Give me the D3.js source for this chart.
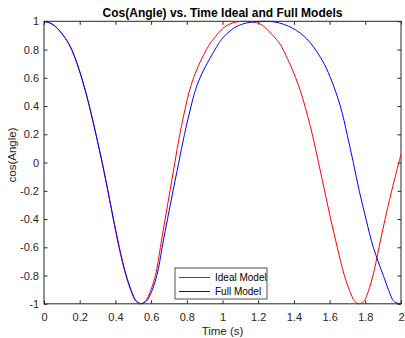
<!DOCTYPE html>
<html>
<head>
<meta charset="utf-8">
<script src="https://cdn.jsdelivr.net/npm/d3@7"></script>
<style>
  html, body { margin: 0; padding: 0; background: #fff; }
  svg { display: block; font-family: "Liberation Sans", Arial, Helvetica, sans-serif; }
</style>
</head>
<body>
<svg id="chart" width="405" height="338"></svg>
<script>
// Ideal model: time (s) and cos(angle)
const idealTime = [0, 0.05, 0.1, 0.155, 0.211, 0.254, 0.291, 0.326, 0.358, 0.388, 0.42, 0.459, 0.5, 0.521,
  0.541, 0.561, 0.583, 0.624, 0.652, 0.679, 0.706, 0.733, 0.761, 0.794, 0.838, 0.91, 0.96, 1.0, 1.04,
  1.08, 1.132, 1.18, 1.22, 1.26, 1.3, 1.339, 1.41, 1.462, 1.503, 1.538, 1.572, 1.606, 1.643, 1.683,
  1.726, 1.746, 1.766, 1.786, 1.806, 1.843, 1.877, 1.911, 1.948, 1.988, 2.0];
const idealCos = [1, 0.977, 0.913, 0.8, 0.6, 0.4, 0.2, 0, -0.2, -0.4, -0.6, -0.8, -0.95, -0.988,
  -1, -0.988, -0.95, -0.8, -0.6, -0.4, -0.2, 0, 0.2, 0.4, 0.6, 0.8, 0.89, 0.948, 0.98,
  0.996, 1, 0.993, 0.975, 0.93, 0.875, 0.8, 0.6, 0.4, 0.2, 0, -0.2, -0.4, -0.6, -0.8,
  -0.95, -0.988, -1, -0.988, -0.95, -0.8, -0.6, -0.4, -0.2, 0, 0.06];

// Full model: time (s) and cos(angle)
const fullTime = [0, 0.05, 0.1, 0.155, 0.211, 0.254, 0.291, 0.326, 0.358, 0.389, 0.422, 0.461, 0.503, 0.525,
  0.545, 0.565, 0.59, 0.632, 0.662, 0.692, 0.723, 0.755, 0.787, 0.824, 0.874, 0.958, 1.0, 1.05, 1.1,
  1.16, 1.25, 1.32, 1.37, 1.415, 1.46, 1.509, 1.56, 1.605, 1.66, 1.698, 1.733, 1.766, 1.804, 1.845,
  1.901, 1.945, 1.968, 1.99, 2.0];
const fullCos = [1, 0.977, 0.913, 0.8, 0.6, 0.4, 0.2, 0, -0.2, -0.4, -0.6, -0.8, -0.95, -0.988,
  -1, -0.988, -0.95, -0.8, -0.6, -0.4, -0.2, 0, 0.2, 0.4, 0.6, 0.8, 0.88, 0.94, 0.975,
  0.994, 1, 0.988, 0.965, 0.935, 0.89, 0.82, 0.72, 0.6, 0.4, 0.2, 0, -0.2, -0.4, -0.6,
  -0.8, -0.95, -0.988, -1, -0.996];

const xTicks = [0, 0.2, 0.4, 0.6, 0.8, 1, 1.2, 1.4, 1.6, 1.8, 2];
const yTicks = [-1, -0.8, -0.6, -0.4, -0.2, 0, 0.2, 0.4, 0.6, 0.8, 1];

const seriesNames = ["Ideal Model", "Full Model"];
const seriesColors = ["#ff0000", "#0000ff"];

const titleText = "Cos(Angle) vs. Time Ideal and Full Models";
const xLabel = "Time (s)";
const yLabel = "cos(Angle)";

const svg = d3.select("#chart");
const plotLeft = 44, plotRight = 401, plotTop = 21.3, plotBottom = 303.8;
const axisColor = "#262626";

const x = d3.scaleLinear().domain([0, 2]).range([plotLeft, plotRight]);
const y = d3.scaleLinear().domain([-1, 1]).range([plotBottom, plotTop]);

const fmt = d => String(+d.toFixed(1));
const tickLen = 3.5;

// bottom axis with labels
const gx = svg.append("g").attr("transform", `translate(0,${plotBottom})`)
  .call(d3.axisBottom(x).tickValues(xTicks).tickFormat(fmt)
    .tickSizeInner(-tickLen).tickSizeOuter(0).tickPadding(9));
// top axis, ticks only
const gxt = svg.append("g").attr("transform", `translate(0,${plotTop})`)
  .call(d3.axisTop(x).tickValues(xTicks).tickFormat("")
    .tickSizeInner(-tickLen).tickSizeOuter(0));
// left axis with labels
const gy = svg.append("g").attr("transform", `translate(${plotLeft},0)`)
  .call(d3.axisLeft(y).tickValues(yTicks).tickFormat(fmt)
    .tickSizeInner(-tickLen).tickSizeOuter(0).tickPadding(5));
// right axis, ticks only
const gyr = svg.append("g").attr("transform", `translate(${plotRight},0)`)
  .call(d3.axisRight(y).tickValues(yTicks).tickFormat("")
    .tickSizeInner(-tickLen).tickSizeOuter(0));

[gx, gxt, gy, gyr].forEach(g => {
  g.select(".domain").remove();
  g.selectAll(".tick line").attr("stroke", axisColor).attr("stroke-width", 1);
  g.selectAll(".tick text").attr("fill", axisColor)
    .style("font-size", "11px").style("font-family", "'Liberation Sans', Arial, sans-serif");
});

// axes box
svg.append("rect")
  .attr("x", plotLeft).attr("y", plotTop)
  .attr("width", plotRight - plotLeft).attr("height", plotBottom - plotTop)
  .attr("fill", "none").attr("stroke", axisColor).attr("stroke-width", 1);

// curves, clipped to the axes box
svg.append("clipPath").attr("id", "plot-clip")
  .append("rect")
  .attr("x", plotLeft).attr("y", plotTop - 1)
  .attr("width", plotRight - plotLeft).attr("height", plotBottom - plotTop + 2);

const line = d3.line()
  .x(d => x(d[0])).y(d => y(d[1]))
  .curve(d3.curveNatural);

const series = [
  d3.zip(idealTime, idealCos),
  d3.zip(fullTime, fullCos)
];

svg.append("g").attr("clip-path", "url(#plot-clip)")
  .selectAll("path")
  .data(series)
  .join("path")
  .attr("d", line)
  .attr("fill", "none")
  .attr("stroke", (d, i) => seriesColors[i])
  .attr("stroke-width", 1);

// title
svg.append("text")
  .attr("x", (plotLeft + plotRight) / 2).attr("y", 16.5)
  .attr("text-anchor", "middle")
  .attr("fill", "#000")
  .style("font-size", "12px").style("font-weight", "bold")
  .text(titleText);

// axis labels
svg.append("text")
  .attr("x", (plotLeft + plotRight) / 2).attr("y", 334.5)
  .attr("text-anchor", "middle")
  .attr("fill", axisColor)
  .style("font-size", "11.5px")
  .text(xLabel);

svg.append("text")
  .attr("transform", `translate(16,155) rotate(-90)`)
  .attr("text-anchor", "middle")
  .attr("fill", axisColor)
  .style("font-size", "11.5px")
  .text(yLabel);

// legend
const lg = svg.append("g").attr("transform", "translate(175,268)");
lg.append("rect")
  .attr("width", 92).attr("height", 31)
  .attr("fill", "#fff").attr("stroke", axisColor).attr("stroke-width", 0.8);
seriesNames.forEach((name, i) => {
  const yy = 9.5 + i * 14;
  lg.append("line")
    .attr("x1", 4).attr("x2", 35).attr("y1", yy).attr("y2", yy)
    .attr("stroke", seriesColors[i]).attr("stroke-width", 1);
  lg.append("text")
    .attr("x", 40).attr("y", yy + 3.5)
    .attr("fill", "#000")
    .style("font-size", "10px")
    .text(name);
});
</script>
</body>
</html>
